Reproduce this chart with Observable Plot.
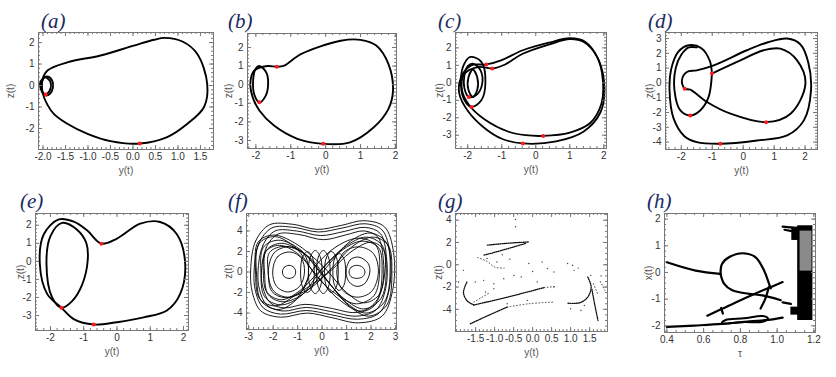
<!DOCTYPE html>
<html><head><meta charset="utf-8">
<script src="https://cdn.jsdelivr.net/npm/d3@7"></script>
<script src="https://cdn.jsdelivr.net/npm/@observablehq/plot@0.6"></script>
<style>
body{margin:0;background:#fff;width:836px;height:377px;position:relative;overflow:hidden;font-family:"Liberation Sans",Arial,sans-serif}
.panel{position:absolute}
.tag{position:absolute;font-family:"Liberation Serif","Times New Roman",Times,serif;font-style:italic;font-size:21px;line-height:20px;color:#1a2b63;white-space:nowrap}
</style></head>
<body>
<script>
// ---------------- data ----------------
// panel (a)
const aBig = [[0.15,-2.7],[0.76,-2.4],[1.21,-1.78],[1.58,-1.0],[1.65,0.08],[1.43,1.47],[1.1,2.05],[0.7,2.22],[0.47,2.13],[0.02,1.86],[-0.72,1.4],[-1.46,1.08],[-1.9,0.7],[-2.02,0.2],[-2.0,-0.4],[-1.9,-0.9],[-1.76,-1.32],[-1.46,-1.78],[-1.01,-2.25],[-0.5,-2.59]];
const aLoop1 = [[-1.92,0.42],[-1.8,0.25],[-1.78,-0.1],[-1.85,-0.4],[-1.95,-0.45],[-2.05,-0.15],[-2.05,0.2]];
const aLoop2 = [[-1.95,0.38],[-1.84,0.2],[-1.83,-0.12],[-1.9,-0.36],[-2.0,-0.35],[-2.03,0.0],[-2.0,0.3]];
const aRed = [[0.15,-2.7],[-1.94,-0.42]];
// panel (b)
const bBig = [[-0.07,-3.18],[0.7,-3.1],[1.38,-2.29],[1.8,-1.3],[1.93,-0.32],[1.8,1.1],[1.45,2.1],[1.0,2.41],[0.43,2.36],[-0.71,1.64],[-1.19,1.02],[-1.4,0.96],[-1.67,1.0],[-2.05,0.75],[-2.16,0.04],[-2.09,-0.68],[-1.9,-1.39],[-1.48,-2.2],[-0.81,-2.91]];
const bLoop = [[-1.9,1.0],[-1.7,0.65],[-1.65,0.0],[-1.72,-0.6],[-1.9,-0.95],[-2.05,-0.5],[-2.08,0.2],[-2.02,0.8]];
const bRed = [[-1.4,0.96],[-1.9,-0.95],[-0.07,-3.18]];
// panel (c)
const cBigA = [[-0.38,-3.47],[0.6,-3.35],[1.4,-2.8],[1.9,-1.7],[2.02,-0.3],[1.85,1.3],[1.45,2.35],[1.0,2.55],[0.4,2.3],[-0.4,1.85],[-1.0,1.3],[-1.45,1.05],[-1.9,1.0],[-2.2,0.3],[-2.25,-0.6],[-2.0,-1.6],[-1.5,-2.6],[-1.0,-3.2]];
const cBigB = [[0.22,-3.04],[1.0,-2.85],[1.6,-2.3],[1.93,-1.2],[1.97,0.2],[1.8,1.5],[1.4,2.35],[1.0,2.5],[0.4,2.2],[-0.4,1.65],[-0.9,1.05],[-1.28,0.82],[-1.7,0.9],[-2.1,0.5],[-2.17,-0.4],[-1.95,-1.3],[-1.5,-2.1],[-0.8,-2.8],[-0.3,-3.0]];
const cLoop1 = [[-1.92,1.48],[-1.6,1.2],[-1.48,0.0],[-1.6,-1.0],[-1.89,-1.38],[-2.12,-0.9],[-2.2,0.2],[-2.1,1.1]];
const cLoop2 = [[-1.85,1.1],[-1.62,0.7],[-1.58,-0.1],[-1.75,-0.7],[-1.97,-0.81],[-2.1,-0.3],[-2.1,0.4],[-2.0,0.95]];
const cLoop3 = [[-1.85,0.75],[-1.72,0.3],[-1.72,-0.4],[-1.85,-0.8],[-1.98,-0.4],[-1.98,0.3]];
const cRed = [[-1.45,1.05],[-1.28,0.82],[-1.97,-0.81],[-1.89,-1.38],[0.22,-3.04],[-0.38,-3.47]];
// panel (d)
const dPath = [[-1.01,0.63],[-1.08,1.5],[-1.35,2.35],[-1.76,2.55],[-2.1,2.1],[-2.33,0.9],[-2.38,-0.5],[-2.25,-2.4],[-1.9,-3.6],[-1.5,-4.0],[-0.74,-4.11],[0.45,-3.89],[1.42,-3.55],[1.96,-2.53],[2.19,-0.5],[2.1,1.4],[1.85,2.6],[1.42,3.0],[0.8,2.75],[0.12,2.21],[-0.95,1.19],[-1.5,0.85],[-1.82,0.74],[-1.98,0.18],[-1.89,-0.39],[-1.71,-0.45],[-1.17,-1.29],[-0.41,-2.08],[0.74,-2.65],[1.53,-2.08],[2.01,-0.05],[1.74,1.53],[1.2,2.32],[0.66,2.21],[-0.2,1.42],[-1.01,0.63]];
const dLoop = [[-1.01,0.63],[-1.12,-0.96],[-1.39,-1.86],[-1.71,-2.2],[-2.03,-1.86],[-2.22,-0.5],[-2.18,1.0],[-2.0,1.9],[-1.76,2.4],[-1.5,2.4]];
const dRed = [[-1.01,0.63],[-1.89,-0.39],[-1.71,-2.2],[0.74,-2.65],[-0.74,-4.11]];
// panel (e)
const eBig = [[-0.47,0.98],[0.0,1.26],[0.7,2.09],[1.3,2.18],[1.8,1.5],[2.05,-0.13],[1.9,-1.8],[1.5,-2.72],[0.8,-3.1],[0.0,-3.37],[-0.7,-3.5],[-1.3,-3.2],[-1.67,-2.57],[-2.1,-1.8],[-2.32,-0.13],[-2.2,1.5],[-1.75,2.32],[-1.3,2.2],[-0.9,1.72]];
const eLoop = [[-1.65,2.13],[-1.2,1.75],[-0.92,1.0],[-0.88,0.06],[-1.05,-1.3],[-1.35,-2.2],[-1.67,-2.57],[-1.95,-2.0],[-2.12,-0.13],[-2.0,1.4]];
const eRed = [[-0.47,0.98],[-1.67,-2.57],[-0.7,-3.5]];
// panel (f)
const fOuter1 = [[-2.92,0.2],[-2.72,3.0],[-2.15,4.6],[-1.2,4.65],[-0.2,4.15],[0.8,4.55],[1.7,5.0],[2.55,4.4],[2.92,1.9],[2.88,-1.8],[2.45,-4.3],[1.5,-4.95],[0.4,-4.45],[-0.6,-4.0],[-1.7,-4.4],[-2.5,-3.8],[-2.85,-2.0]];
const fOuter2 = [[-2.78,0.1],[-2.58,2.8],[-2.05,4.3],[-1.15,4.35],[-0.15,3.9],[0.85,4.3],[1.75,4.7],[2.45,4.1],[2.78,1.7],[2.74,-1.7],[2.33,-4.0],[1.45,-4.6],[0.35,-4.15],[-0.65,-3.75],[-1.7,-4.1],[-2.4,-3.5],[-2.72,-1.9]];
const fOuter3 = [[-2.62,0],[-2.42,2.6],[-1.92,4.0],[-1.05,4.0],[-0.05,3.55],[0.9,3.95],[1.75,4.35],[2.38,3.75],[2.63,1.5],[2.6,-1.6],[2.2,-3.7],[1.4,-4.3],[0.35,-3.85],[-0.65,-3.45],[-1.6,-3.8],[-2.25,-3.25],[-2.56,-1.7]];
const fOuter4 = [[-2.48,0],[-2.28,2.4],[-1.8,3.7],[-0.95,3.65],[0.05,3.15],[0.95,3.6],[1.72,4.0],[2.28,3.4],[2.5,1.3],[2.45,-1.5],[2.08,-3.4],[1.35,-3.95],[0.3,-3.5],[-0.7,-3.15],[-1.55,-3.5],[-2.12,-3.0],[-2.42,-1.5]];
const fCross1 = [[0,0.3],[0.9,2.4],[1.8,3.4],[2.45,2.6],[2.62,0],[2.4,-2.6],[1.7,-3.6],[0.9,-2.6],[0,-0.3],[-0.9,2.2],[-1.8,3.1],[-2.4,2.4],[-2.5,0],[-2.35,-2.4],[-1.7,-3.2],[-0.9,-2.4]];
const fCross2 = [[0.3,0.8],[1.1,2.9],[1.95,3.8],[2.62,2.9],[2.78,0.2],[2.55,-2.9],[1.8,-4.0],[1.0,-3.0],[0.2,-0.8],[-0.7,1.7],[-1.65,2.8],[-2.28,2.1],[-2.35,-0.2],[-2.2,-2.2],[-1.6,-2.9],[-0.7,-2.0]];
const fCross3 = [[-0.3,0.5],[0.6,2.5],[1.5,3.3],[2.2,2.6],[2.35,0.1],[2.12,-2.3],[1.4,-3.1],[0.6,-2.2],[-0.2,-0.5],[-1.1,2.4],[-1.95,3.45],[-2.58,2.75],[-2.68,-0.2],[-2.48,-2.85],[-1.8,-3.65],[-1.1,-2.8]];
const fCross4 = [[0.2,-0.2],[1.2,2.0],[2.0,2.9],[2.5,2.2],[2.55,-0.3],[2.3,-2.3],[1.7,-3.0],[1.0,-2.0],[0.1,0.4],[-1.1,2.8],[-2.0,3.6],[-2.62,2.9],[-2.72,0.1],[-2.55,-2.6],[-1.9,-3.3],[-1.0,-2.1]];
const fCross5 = [[-0.1,0.1],[0.8,2.1],[1.6,3.0],[2.3,2.4],[2.45,0],[2.25,-2.7],[1.6,-3.8],[0.7,-2.7],[-0.3,-0.1],[-1.0,1.8],[-1.75,2.6],[-2.3,2.0],[-2.4,-0.1],[-2.25,-2.0],[-1.65,-2.7],[-0.9,-1.8]];
const fCross6 = [[0.4,0.4],[1.3,2.6],[2.1,3.4],[2.7,2.6],[2.85,0.1],[2.65,-3.2],[1.9,-4.3],[1.1,-3.3],[0.3,-1.1],[-0.5,1.4],[-1.5,2.5],[-2.15,1.9],[-2.2,-0.1],[-2.05,-1.9],[-1.5,-2.5],[-0.5,-1.6]];
const fLeft1 = [[-2.2,0],[-1.95,1.9],[-1.35,2.45],[-0.75,1.8],[-0.55,0],[-0.8,-1.8],[-1.4,-2.45],[-1.98,-1.85]];
const fLeft2 = [[-2.02,0],[-1.82,1.5],[-1.3,1.95],[-0.85,1.35],[-0.72,0],[-0.92,-1.4],[-1.4,-1.95],[-1.86,-1.4]];
const fLeftSmall = [[-1.62,0],[-1.55,0.45],[-1.35,0.65],[-1.15,0.45],[-1.08,0],[-1.15,-0.45],[-1.35,-0.62],[-1.55,-0.45]];
const fRight1 = [[0.6,0],[0.88,1.9],[1.5,2.45],[2.1,1.8],[2.3,0],[2.02,-1.9],[1.42,-2.45],[0.85,-1.8]];
const fRight2 = [[0.98,0],[1.15,1.2],[1.5,1.45],[1.88,0.85],[1.95,0],[1.75,-1.1],[1.42,-1.4],[1.1,-0.95]];
const fRightSmall = [[1.1,0],[1.18,0.45],[1.42,0.65],[1.66,0.45],[1.75,0],[1.66,-0.45],[1.42,-0.62],[1.18,-0.45]];
const fSpring1 = [[-0.88,0],[-0.8,1.45],[-0.6,2.0],[-0.4,1.45],[-0.32,0],[-0.4,-1.45],[-0.6,-2.0],[-0.8,-1.45]];
const fSpring2 = [[-0.56,0],[-0.48,1.5],[-0.28,2.1],[-0.08,1.5],[0.0,0],[-0.08,-1.5],[-0.28,-2.1],[-0.48,-1.5]];
const fSpring3 = [[-0.23,0],[-0.15,1.5],[0.05,2.1],[0.25,1.5],[0.33,0],[0.25,-1.5],[0.05,-2.1],[-0.15,-1.5]];
const fSpring4 = [[0.1,0],[0.18,1.45],[0.38,2.0],[0.58,1.45],[0.66,0],[0.58,-1.45],[0.38,-2.0],[0.18,-1.45]];
const fSpring5 = [[0.44,0],[0.51,1.3],[0.7,1.8],[0.89,1.3],[0.96,0],[0.89,-1.3],[0.7,-1.8],[0.51,-1.3]];
// panel (g)
const gDense = [
  [[-1.19,1.76],[-0.7,1.92],[-0.09,2.05]],
  [[-1.28,0.86],[-0.75,1.35],[-0.18,1.92]],
  [[-1.73,-1.55],[-1.82,-2.5],[-1.72,-3.25],[-1.55,-3.6]],
  [[-1.55,-3.62],[-0.6,-2.85],[0.3,-2.05]],
  [[-1.64,-5.3],[-1.2,-4.6],[-0.67,-3.8]],
  [[0.93,-3.45],[1.25,-3.4],[1.45,-2.9],[1.54,-2.0],[1.45,-1.1]],
  [[1.56,-2.2],[1.63,-3.5],[1.72,-5.0]]
];
const gFaint = [
  [[-1.45,0.65],[-1.2,0.3],[-1.0,-0.2],[-0.75,-0.3]],
  [[0.3,-2.05],[0.6,-1.95]],
  [[-0.67,-3.8],[-0.1,-3.5],[0.56,-3.35]],
  [[-1.55,-3.35],[-1.35,-2.95],[-1.15,-2.55]],
  [[1.78,-1.5],[1.9,-2.3]],
  [[1.6,-1.7],[1.72,-2.7]]
];
const gDots = [[-0.45,4.07],[-0.45,3.41],[-1.2,0.56],[-0.94,0.25],[-0.1,0.11],[0.25,0.25],[0.39,-0.34],[0.56,-0.65],[0.92,0.11],[1.05,-0.05],[1.09,-0.5],[1.53,-0.95],[-1.82,-0.5],[-1.95,-1.55],[-1.51,-1.55],[-1.29,-1.4],[-1.02,-1.7],[-0.76,-1.25],[-0.49,-0.96],[-1.02,-2.15],[-1.24,-2.45],[-0.67,-3.5],[-0.14,-3.2],[0.12,-1.55],[1.0,-3.95],[1.27,-4.1],[1.36,-3.65],[0.56,-2.0],[-0.3,-1.1],[0.0,-0.6],[1.2,-0.3],[1.8,-1.0],[-0.8,0.9],[-0.6,0.5]];
// panel (h)
const hCurves = [
  [[0.40,0.38],[0.556,0.07],[0.692,-0.05]],
  [[0.692,-0.08],[0.70,0.32],[0.738,0.57],[0.81,0.72],[0.883,0.57],[0.929,0.07],[0.953,-0.36],[0.965,-0.6]],
  [[0.692,-0.05],[0.711,-0.42],[0.756,-0.67],[0.847,-0.8],[0.92,-0.86],[1.02,-1.04]],
  [[0.62,-1.62],[0.72,-1.3],[0.83,-0.95],[0.93,-0.65],[1.03,-0.36]],
  [[0.695,-1.33],[0.705,-1.54]],
  [[0.955,-0.55],[0.935,-1.0],[0.91,-1.35]],
  [[0.40,-2.04],[0.55,-1.99],[0.70,-1.93],[0.85,-1.83],[0.95,-1.78],[1.03,-1.69]],
  [[1.03,-1.12],[1.075,-1.18]],
  [[1.03,1.72],[1.085,1.68]],
  [[1.04,1.6],[1.08,1.55]]
];
const hLoop = [[0.70,-1.9],[0.72,-1.78],[0.82,-1.72],[0.92,-1.63],[0.95,-1.72],[0.92,-1.85],[0.82,-1.86]];
const hChaosBlack = [[1.112,1.195,-1.8,1.75],[1.08,1.12,1.2,1.7],[1.075,1.12,-1.6,-1.3]];
const hChaosGray = [[1.125,1.19,0.05,1.55]];
// tick labels
const ticksInt2 = [-2,-1,0,1,2];
const ticksA_x = [-2,-1.5,-1,-0.5,0,0.5,1,1.5];
const ticksA_y = [-2,-1,0,1,2];
const ticksB_y = [-3,-2,-1,0,1,2];
const ticksD_y = [-4,-3,-2,-1,0,1,2,3];
const ticksF_x = [-3,-2,-1,0,1,2,3];
const ticksF_y = [-4,-2,0,2,4];
const ticksG_x = [-1.5,-1,-0.5,0,0.5,1,1.5];
const ticksH_x = [0.4,0.6,0.8,1.0,1.2];

// ---------------- helpers ----------------
const ml=45, mr=8, mt=8, mb=40;
const fmt1 = d => (d<0?"-":"") + Math.abs(d).toFixed(1);
const fmt0 = d => (d<0?"-":"") + Math.abs(d);
const table = series => series.flatMap((p,i)=>p.map(q=>({x:q[0],y:q[1],s:i})));
const pts = arr => arr.map(q=>({x:q[0],y:q[1]}));
const minor = (a,b,s) => d3.range(Math.ceil(a/s), Math.floor(b/s)+1).map(i=>+(i*s).toFixed(4));

function closed(series, w){ return Plot.line(table(series),{x:"x",y:"y",z:"s",curve:"catmull-rom-closed",stroke:"#000",strokeWidth:w}); }
function open(series, w, extra={}){ return Plot.line(table(series),{x:"x",y:"y",z:"s",curve:"catmull-rom",stroke:"#000",strokeWidth:w,...extra}); }
function red(arr){ return Plot.dot(pts(arr),{x:"x",y:"y",r:2,fill:"#ff1a1a",stroke:null}); }

function panel(c){
  const tc="#777";
  const xm = minor(c.xDom[0],c.xDom[1],c.xStep), ym = minor(c.yDom[0],c.yDom[1],c.yStep);
  const svg = Plot.plot({
    width:c.W+ml+mr, height:c.H+mt+mb, marginLeft:ml, marginRight:mr, marginTop:mt, marginBottom:mb,
    x:{domain:c.xDom}, y:{domain:c.yDom},
    style:{background:"transparent",overflow:"visible",maxWidth:"none",fontFamily:"Liberation Sans, Arial, sans-serif",fontSize:"10px",color:"#333"},
    marks:[
      ...c.marks,
      Plot.frame({stroke:tc}),
      Plot.ruleX(c.xMajor,{x:d=>d,insetTop:c.H-4,stroke:tc}),
      Plot.ruleX(c.xMajor,{x:d=>d,insetBottom:c.H-4,stroke:tc}),
      Plot.ruleX(xm,{x:d=>d,insetTop:c.H-2,stroke:tc}),
      Plot.ruleX(xm,{x:d=>d,insetBottom:c.H-2,stroke:tc}),
      Plot.ruleY(c.yMajor,{y:d=>d,insetRight:c.W-4,stroke:tc}),
      Plot.ruleY(c.yMajor,{y:d=>d,insetLeft:c.W-4,stroke:tc}),
      Plot.ruleY(ym,{y:d=>d,insetRight:c.W-2,stroke:tc}),
      Plot.ruleY(ym,{y:d=>d,insetLeft:c.W-2,stroke:tc}),
      Plot.axisX({ticks:c.xMajor,tickSize:0,tickPadding:3,tickFormat:c.xFmt,label:null,color:"#333"}),
      Plot.axisY({ticks:c.yMajor,tickSize:0,tickPadding:4,tickFormat:c.yFmt,label:null,color:"#333"}),
      Plot.text([c.xLabel],{frameAnchor:"bottom",dy:21,text:d=>d,fill:"#555",lineAnchor:"middle",textAnchor:"middle",fontSize:10}),
      Plot.text([c.yLabel],{frameAnchor:"left",dx:c.yDx,rotate:-90,text:d=>d,fill:"#555",lineAnchor:"middle",textAnchor:"middle",fontSize:10})
    ]
  });
  const div=document.createElement("div");
  div.className="panel";
  div.style.left=(c.L-ml)+"px"; div.style.top=(c.T-mt)+"px";
  div.style.width=(c.W+ml+mr)+"px";
  div.appendChild(svg);
  document.body.appendChild(div);
  const t=document.createElement("div");
  t.className="tag"; t.textContent=c.tag;
  t.style.left=c.tx+"px"; t.style.top=c.ty+"px";
  document.body.appendChild(t);
}

panel({tag:"(a)",tx:41,ty:11,L:38,T:32,W:175,H:117,xDom:[-2.1,1.79],yDom:[-2.98,2.47],xMajor:ticksA_x,yMajor:ticksA_y,xStep:0.1,yStep:0.2,xFmt:fmt1,yFmt:fmt0,xLabel:"y(t)",yLabel:"z(t)",yDx:-28,
  marks:[closed([aBig,aLoop1,aLoop2],1.9), red(aRed)]});
panel({tag:"(b)",tx:228,ty:11,L:247,T:33,W:149,H:115,xDom:[-2.24,2.03],yDom:[-3.43,2.75],xMajor:ticksInt2,yMajor:ticksB_y,xStep:0.2,yStep:0.2,xFmt:fmt0,yFmt:fmt0,xLabel:"y(t)",yLabel:"z(t)",yDx:-19,
  marks:[closed([bBig,bLoop],1.9), red(bRed)]});
panel({tag:"(c)",tx:438,ty:11,L:455,T:32,W:151,H:116,xDom:[-2.36,2.08],yDom:[-3.76,2.88],xMajor:ticksInt2,yMajor:ticksB_y,xStep:0.2,yStep:0.2,xFmt:fmt0,yFmt:fmt0,xLabel:"y(t)",yLabel:"z(t)",yDx:-16,
  marks:[closed([cBigA,cBigB,cLoop1,cLoop2,cLoop3],1.8), red(cRed)]});
panel({tag:"(d)",tx:648,ty:11,L:665,T:32,W:152,H:117,xDom:[-2.51,2.40],yDom:[-4.5,3.41],xMajor:ticksInt2,yMajor:ticksD_y,xStep:0.2,yStep:0.2,xFmt:fmt0,yFmt:fmt0,xLabel:"y(t)",yLabel:"z(t)",yDx:-16,
  marks:[open([dPath,dLoop],1.9), red(dRed)]});
panel({tag:"(e)",tx:20,ty:191,L:35,T:213,W:153,H:117,xDom:[-2.45,2.15],yDom:[-3.83,2.65],xMajor:ticksInt2,yMajor:ticksB_y,xStep:0.2,yStep:0.2,xFmt:fmt0,yFmt:fmt0,xLabel:"y(t)",yLabel:"z(t)",yDx:-15,
  marks:[closed([eBig,eLoop],1.9), red(eRed)]});
panel({tag:"(f)",tx:228,ty:191,L:246,T:213,W:150,H:116,xDom:[-3.09,3.04],yDom:[-5.6,5.7],xMajor:ticksF_x,yMajor:ticksF_y,xStep:0.2,yStep:0.5,xFmt:fmt0,yFmt:fmt0,xLabel:"y(t)",yLabel:"z(t)",yDx:-18,
  marks:[closed([fOuter1,fOuter2,fOuter3,fOuter4,fCross1,fCross2,fCross3,fCross4,fCross5,fCross6,fLeft1,fLeft2,fLeftSmall,fRight1,fRight2,fRightSmall,fSpring1,fSpring2,fSpring3,fSpring4,fSpring5],0.9)]});
panel({tag:"(g)",tx:438,ty:191,L:455,T:213,W:152,H:118,xDom:[-2.03,1.97],yDom:[-5.99,4.6],xMajor:ticksG_x,yMajor:ticksF_y,xStep:0.1,yStep:0.5,xFmt:fmt1,yFmt:fmt0,xLabel:"y(t)",yLabel:"z(t)",yDx:-17,
  marks:[open(gDense,1.3,{strokeDasharray:"1 1.1",stroke:"#111"}), open(gFaint,0.9,{strokeDasharray:"0.8 2.4",stroke:"#333"}),
         Plot.dot(pts(gDots),{x:"x",y:"y",r:0.7,fill:"#444",stroke:null})]});
panel({tag:"(h)",tx:647,ty:191,L:664,T:213,W:151,H:119,xDom:[0.387,1.209],yDom:[-2.25,2.21],xMajor:ticksH_x,yMajor:ticksInt2,xStep:0.05,yStep:0.2,xFmt:fmt1,yFmt:fmt0,xLabel:"τ",yLabel:"x(t)",yDx:-16,
  marks:[Plot.rect(hChaosBlack,{x1:d=>d[0],x2:d=>d[1],y1:d=>d[2],y2:d=>d[3],fill:"#000"}),
         Plot.rect(hChaosGray,{x1:d=>d[0],x2:d=>d[1],y1:d=>d[2],y2:d=>d[3],fill:"#8a8a8a"}),
         open(hCurves,2.2), closed([hLoop],2.0)]});
</script>
</body></html>
